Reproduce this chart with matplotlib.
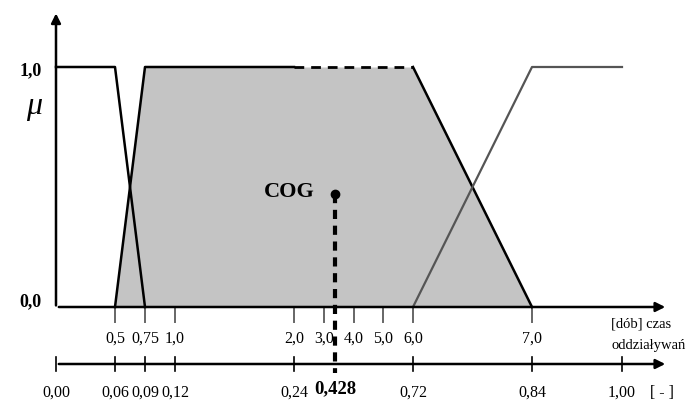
import numpy as np
import matplotlib.pyplot as plt

# membership functions, x in days
f_low_days = [0.0, 0.5, 0.75]
f_low_mu = [1.0, 1.0, 0.0]
f_mid_days = [0.5, 0.75, 6.0, 7.0]
f_mid_mu = [0.0, 1.0, 1.0, 0.0]
f_high_days = [6.0, 7.0, 25 / 3]
f_high_mu = [0.0, 1.0, 1.0]
mid_dash_from = 2.0          # top of middle set is dashed from here on (days)

day_ticks = [0.5, 0.75, 1.0, 2.0, 3.0, 4.0, 5.0, 6.0, 7.0]
day_labels = ["0,5", "0,75", "1,0", "2,0", "3,0", "4,0", "5,0", "6,0", "7,0"]
norm_ticks = [0.0, 0.06, 0.09, 0.12, 0.24, 0.72, 0.84, 1.0]
norm_labels = ["0,00", "0,06", "0,09", "0,12", "0,24", "0,72", "0,84", "1,00"]

cog_x = 0.405               # where the COG line sits on the normalised axis
cog_mu = 0.47
cog_label = "0,428"

day_to_norm = 0.12          # 1 day = 0.12 on the normalised axis


def d2n(d):
    return np.asarray(d) * day_to_norm


# the picture stretches the axis piecewise
norm_bp = [0.0, 0.06, 0.09, 0.12, 0.24, 0.72, 0.84, 1.0, 2.0]
pos_bp = [0, 59, 89, 119, 238, 357, 476, 566, 1128.5]


def fwd(x):
    return np.interp(x, norm_bp, pos_bp)


def inv(p):
    return np.interp(p, pos_bp, norm_bp)


W, H = 689, 403
fig = plt.figure(figsize=(W / 100, H / 100), dpi=100)
ax = fig.add_axes([56 / W, (H - 307) / H, 612 / W, 240 / H])
ax.set_xscale('function', functions=(fwd, inv))
x_end = float(inv(612))
ax.set_xlim(0, x_end)
ax.set_ylim(0, 1)
ax.axis('off')

serif = 'Liberation Serif'
lab_fs = 11.5

# shaded middle set
ax.fill_between(d2n(f_mid_days), f_mid_mu, 0, color='#c4c4c4', lw=0, zorder=1)

# low set
ax.plot(d2n(f_low_days), f_low_mu, color='black', lw=1.8, clip_on=False, zorder=3)

# middle set: left slope + solid top, dashed top, right slope
ax.plot(d2n([0.5, 0.75, mid_dash_from]), [0, 1, 1], color='black', lw=1.8, clip_on=False, zorder=3)
ax.plot(d2n([mid_dash_from, 6.0]), [1, 1], color='black', lw=2, ls=(0, (3.5, 2.5)), clip_on=False, zorder=3)
ax.plot(d2n([6.0, 7.0]), [1, 0], color='black', lw=1.8, clip_on=False, zorder=3)

# high set
ax.plot(d2n(f_high_days), f_high_mu, color='#555555', lw=1.6, clip_on=False, zorder=3)

# y axis with arrow
ax.annotate('', xy=(0, 1.235), xytext=(0, -0.005), xycoords='data',
            arrowprops=dict(arrowstyle='-|>', color='black', lw=1.8, mutation_scale=14),
            annotation_clip=False)

# top (days) axis
ax.annotate('', xy=(x_end, 0), xytext=(0, 0),
            arrowprops=dict(arrowstyle='-|>', color='black', lw=1.8, mutation_scale=14),
            annotation_clip=False)
for d, lab in zip(day_ticks, day_labels):
    ax.plot([d2n(d)] * 2, [0, -0.063], color='#666666', lw=1.4, clip_on=False, zorder=2)
    ax.text(d2n(d), -0.13, lab, ha='center', va='center', family=serif, fontsize=lab_fs)
ax.text(inv(555), -0.07, "[dób] czas", ha='left', va='center', family=serif, fontsize=10.5)
ax.text(inv(555), -0.16, "oddziaływań", ha='left', va='center', family=serif, fontsize=10.5)

# bottom (normalised) axis
y2 = -0.2375
ax.annotate('', xy=(x_end, y2), xytext=(0, y2),
            arrowprops=dict(arrowstyle='-|>', color='black', lw=1.8, mutation_scale=14),
            annotation_clip=False)
for v, lab in zip(norm_ticks, norm_labels):
    ax.plot([v, v], [y2 + 0.03, y2 - 0.03], color='black', lw=1.2, clip_on=False, zorder=2)
    ax.text(v, -0.358, lab, ha='center', va='center', family=serif, fontsize=lab_fs)
ax.text(inv(594), -0.358, "[ - ]", ha='left', va='center', family=serif, fontsize=lab_fs)

# COG
ax.plot([cog_x, cog_x], [cog_mu, -0.275], color='black', lw=3, ls=(0, (2.2, 1.6)),
        clip_on=False, zorder=4)
ax.plot([cog_x], [cog_mu], 'o', color='black', ms=6, zorder=5)
ax.text(inv(259), cog_mu + 0.01, "COG", ha='right', va='center', family=serif,
        fontsize=16, fontweight='bold')
ax.text(cog_x, -0.34, cog_label, ha='center', va='center', family=serif,
        fontsize=13.5, fontweight='bold')

# y labels
ax.text(-0.023, 0.985, "1,0", ha='right', va='center', family=serif, fontsize=13,
        fontweight='bold', transform=ax.get_yaxis_transform())
ax.text(-0.023, 0.02, "0,0", ha='right', va='center', family=serif, fontsize=13,
        fontweight='bold', transform=ax.get_yaxis_transform())
ax.text(-0.036, 0.835, "μ", ha='center', va='center', family=serif, fontsize=23,
        fontstyle='italic', transform=ax.get_yaxis_transform())

fig.savefig('out.png', dpi=100)
